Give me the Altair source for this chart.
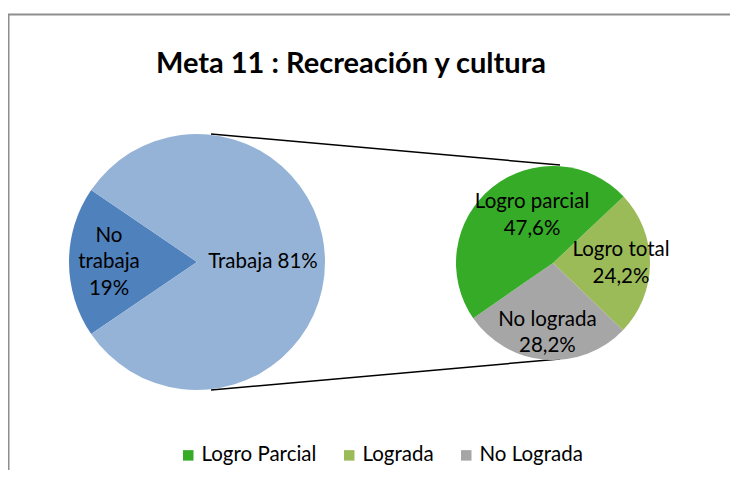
import math
import altair as alt
import pandas as pd

# ---- data ----
main_categories = ["No trabaja", "Trabaja"]
main_values = [19, 81]
main_labels = ["No\ntrabaja\n19%", "Trabaja 81%"]

sub_categories = ["Logro total", "No lograda", "Logro parcial"]
sub_values = [24.2, 28.2, 47.6]
sub_labels = ["Logro total\n24,2%", "No lograda\n28,2%", "Logro parcial\n47,6%"]
sub_legend = ["Lograda", "No Lograda", "Logro Parcial"]

legend_order = ["Logro Parcial", "Lograda", "No Lograda"]
legend_colors = ["#36AB27", "#9BBB59", "#A6A6A6"]
main_colors = ["#4F81BD", "#95B3D7"]

title_text = "Meta 11 : Recreación y cultura"

FONT = "Lato"
LH = 26.5

main_df = pd.DataFrame({
    "cat": main_categories, "value": main_values,
    "label": main_labels, "ord": list(range(len(main_categories))),
})
sub_df = pd.DataFrame({
    "cat": sub_categories, "value": sub_values, "label": sub_labels,
    "leg": sub_legend, "ord": list(range(len(sub_categories))),
})

def stacked(df):
    return (alt.Chart(df)
            .transform_window(end="sum(value)", sort=[alt.SortField("ord")])
            .transform_calculate(start="datum.end - datum.value",
                                 mid="datum.end - datum.value / 2"))

# main pie
MCX, MCY, MR = 189, 254, 128
m_start = math.radians(270 - main_values[0] * 3.6 / 2)
m_theta = alt.Scale(domain=[0, 100], range=[m_start, m_start + 2 * math.pi])
mbase = stacked(main_df)
main_arc = mbase.mark_arc(radius=MR).encode(
    theta=alt.Theta("start:Q", scale=m_theta),
    theta2="end:Q",
    x=alt.value(MCX), y=alt.value(MCY),
    color=alt.Color("cat:N", scale=alt.Scale(domain=main_categories, range=main_colors), legend=None),
)

def label_layer(base, cat, lines, scale, cx, cy, r, dx=0, dy=0):
    return base.transform_filter(alt.datum.cat == cat).mark_text(
        radius=r, dx=dx, dy=dy - (lines - 1) * LH / 2, font=FONT, fontSize=20.5, lineBreak="\n",
        lineHeight=LH, align="center", baseline="middle", color="#000000",
    ).encode(theta=alt.Theta("mid:Q", scale=scale), x=alt.value(cx), y=alt.value(cy), text="label:N")

main_layer = alt.layer(
    main_arc,
    label_layer(mbase, "No trabaja", 3, m_theta, MCX, MCY, 88),
    label_layer(mbase, "Trabaja", 1, m_theta, MCX, MCY, 66),
)

# sub pie
SCX, SCY, SR = 545, 255, 97
s_start = math.radians(46.7)
s_theta = alt.Scale(domain=[0, 100], range=[s_start, s_start + 2 * math.pi])
sbase = stacked(sub_df)
sub_arc = sbase.mark_arc(radius=SR).encode(
    theta=alt.Theta("start:Q", scale=s_theta),
    theta2="end:Q",
    x=alt.value(SCX), y=alt.value(SCY),
    color=alt.Color("leg:N", scale=alt.Scale(domain=legend_order, range=legend_colors),
                    legend=alt.Legend(title=None, orient="none", legendX=170, legendY=437,
                                      direction="horizontal", symbolType="square",
                                      symbolSize=110, symbolStrokeWidth=0,
                                      labelFont=FONT, labelFontSize=20.5, labelColor="#000000",
                                      labelOffset=3, columnPadding=22, padding=0)),
)
sub_layer = alt.layer(
    sub_arc,
    label_layer(sbase, "Logro total", 2, s_theta, SCX, SCY, 68),
    label_layer(sbase, "No lograda", 2, s_theta, SCX, SCY, 70),
    label_layer(sbase, "Logro parcial", 2, s_theta, SCX, SCY, 50, dx=10.5, dy=-8.8),
)

# connectors, frame, title
deco = alt.Chart(pd.DataFrame({"k": [0]}))
conn_top = deco.mark_rule(color="#000000", strokeWidth=1.5).encode(
    x=alt.value(203), y=alt.value(126), x2=alt.value(552), y2=alt.value(157))
conn_bot = deco.mark_rule(color="#000000", strokeWidth=1.5).encode(
    x=alt.value(203), y=alt.value(382), x2=alt.value(552), y2=alt.value(351))
frame_top = deco.mark_rule(color="#8E8E8E", strokeWidth=2).encode(
    x=alt.value(0), y=alt.value(6.5), x2=alt.value(730), y2=alt.value(6.5))
frame_left = deco.mark_rule(color="#8E8E8E", strokeWidth=2).encode(
    x=alt.value(0.5), y=alt.value(6.5), x2=alt.value(0.5), y2=alt.value(480))
title = deco.mark_text(font=FONT, fontSize=29, fontWeight="bold", color="#000000",
                       align="center", baseline="alphabetic").encode(
    x=alt.value(343), y=alt.value(65), text=alt.value(title_text))

chart = alt.layer(
    frame_top, frame_left, conn_top, conn_bot, main_layer, sub_layer, title
).resolve_scale(theta="independent", color="independent").properties(
    width=722, height=462, autosize=alt.AutoSizeParams(type="none"), padding=0,
).configure_view(stroke=None)

chart.save("out.html", embed_options={"renderer": "svg", "actions": False})
